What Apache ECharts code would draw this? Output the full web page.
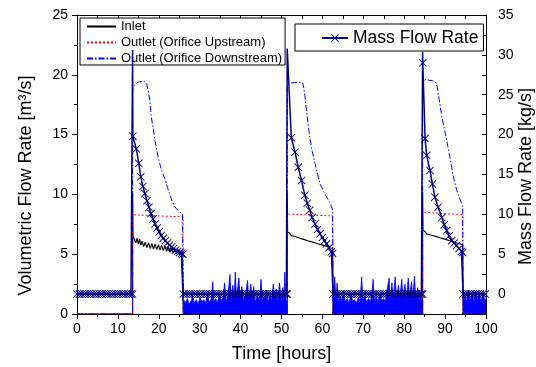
<!DOCTYPE html>
<html><head><meta charset="utf-8">
<script src="https://cdn.jsdelivr.net/npm/echarts@6/dist/echarts.min.js"></script>
<style>html,body{margin:0;padding:0;background:#fff}#c{width:536px;height:367px}</style>
</head><body><div id="c"></div><script>
// ---- axis ranges ----
const xRange = [0, 100];
const leftRange = [0, 25];
const rightRange = [-2.5, 35];

// ---- Inlet volumetric flow [m3/s] ----
const inlet = [[0,0],[13.6,0],[13.6,10.1],[13.7,6.5],[14.1,6.42],[14.4,5.95],[14.7,6.34],[15.0,5.85],[15.3,6.26],[15.6,5.76],[15.9,6.1],[16.3,5.64],[16.7,6.0],[17.1,5.55],[17.5,5.95],[17.9,5.48],[18.3,5.9],[18.7,5.42],[19.1,5.85],[19.5,5.38],[19.9,5.8],[20.3,5.34],[20.7,5.76],[21.1,5.3],[21.5,5.7],[21.9,5.24],[22.3,5.64],[22.7,5.18],[23.1,5.57],[23.5,5.1],[23.9,5.48],[24.3,5.02],[24.7,5.4],[25.1,4.95],[25.5,5.32],[25.9,5.25],[26.0,0],
 [51.4,0],[51.4,10.1],[51.5,6.85],[52.0,6.75],[52.4,6.55],[52.8,6.7],[53.2,6.5],[53.6,6.6],[54.0,6.4],[54.4,6.5],[54.8,6.3],[55.2,6.42],[55.6,6.22],[56.0,6.33],[56.4,6.13],[56.8,6.25],[57.2,6.05],[57.6,6.17],[58.0,5.97],[58.4,6.08],[58.8,5.88],[59.2,6.0],[59.6,5.8],[60.0,5.92],[60.4,5.72],[60.8,5.83],[61.2,5.63],[61.6,5.72],[62.0,5.52],[62.5,5.5],[62.6,0],
 [84.5,0],[84.5,10.2],[84.6,7.0],[85.1,6.9],[85.5,6.7],[85.9,6.82],[86.3,6.62],[86.7,6.75],[87.1,6.55],[87.5,6.67],[87.9,6.47],[88.3,6.58],[88.7,6.38],[89.1,6.5],[89.5,6.3],[89.9,6.42],[90.3,6.22],[90.7,6.33],[91.1,6.13],[91.5,6.24],[91.9,6.05],[92.3,6.16],[92.7,5.96],[93.1,6.08],[93.5,5.88],[93.9,5.98],[94.3,5.8],[94.4,0],[100,0]];

// ---- Outlet (Orifice Upstream) [m3/s] ----
const upstream = [[0,0],[13.6,0],[13.6,8.3],[14.0,8.22],[20.0,8.2],[25.9,8.13],[26.0,0],
 [51.4,0],[51.4,8.4],[52.0,8.35],[62.5,8.2],[62.6,0],
 [84.5,0],[84.5,8.55],[85.0,8.5],[94.3,8.3],[94.4,0],[100,0]];

// ---- Outlet (Orifice Downstream) [m3/s] ----
const downstream = [[0,0],[13.6,0],[13.6,18.8],[14.0,19.1],[14.5,19.3],[15.0,19.4],[16.5,19.45],[17.0,19.3],[17.4,18.7],[17.8,17.9],[18.2,16.4],[18.6,15.6],[19.0,14.6],[19.4,13.9],[19.8,13.2],[20.2,12.6],[20.8,11.9],[21.5,11.3],[22.1,10.6],[22.7,10.0],[23.3,9.4],[23.9,9.0],[24.3,8.8],[24.7,8.7],[25.2,8.5],[25.8,8.35],[26.0,0],
 [51.4,0],[51.4,19.0],[51.8,19.3],[52.0,19.4],[55.0,19.4],[55.3,19.2],[55.7,18.3],[56.1,17.1],[56.5,15.9],[56.9,14.8],[57.5,13.6],[58.2,12.6],[58.8,11.7],[59.4,10.9],[60.2,10.3],[61.0,9.8],[61.7,9.4],[62.2,9.0],[62.5,8.7],[62.6,0],
 [84.5,0],[84.5,19.2],[85.1,19.6],[87.0,19.5],[87.9,19.3],[88.3,18.5],[88.7,17.6],[89.2,16.5],[89.8,15.5],[90.4,14.5],[91.0,13.4],[91.6,12.3],[92.2,11.2],[92.8,10.4],[93.4,9.8],[94.0,9.3],[94.3,9.0],[94.4,0],[100,0]];

// downstream noise during the off periods
const dsNoiseA = [[26.0,1.0],[26.1,1.2],[26.5,0.9],[27.0,1.3],[27.4,0.8],[27.9,1.1],[28.3,1.5],[28.7,0.9],[29.2,1.2],[29.6,0.8],[30.1,1.4],[30.5,1.0],[31.0,1.2],[31.4,0.9],[31.9,1.6],[32.3,1.0],[32.8,1.2],[33.2,2.7],[33.4,1.0],[33.9,1.3],[34.3,0.9],[34.8,1.7],[35.2,1.1],[35.7,1.4],[36.1,2.6],[36.4,1.0],[36.9,1.5],[37.4,3.3],[37.7,1.2],[38.1,2.4],[38.4,1.1],[38.7,3.5],[39.0,1.3],[39.6,3.0],[39.9,1.1],[40.3,2.3],[40.7,1.2],[41.2,1.6],[41.7,2.8],[42.0,1.1],[42.5,2.5],[42.8,1.2],[43.2,2.3],[43.6,1.0],[44.1,1.5],[44.6,1.1],[45.0,2.9],[45.3,1.2],[45.8,1.4],[46.3,2.0],[46.7,1.0],[47.2,1.6],[47.6,1.1],[48.0,2.5],[48.3,1.2],[48.7,2.1],[49.1,1.0],[49.5,2.6],[49.9,1.2],[50.3,2.2],[50.6,1.1],[50.8,3.5],[51.1,1.2],[51.4,1.0]];
const dsNoiseB = [[62.6,1.1],[63.0,3.1],[63.3,1.2],[63.6,2.6],[63.9,1.0],[64.3,1.5],[64.7,1.1],[65.2,1.9],[65.6,1.0],[66.1,1.3],[66.5,0.9],[67.0,1.6],[67.4,1.1],[67.9,1.2],[68.3,0.9],[68.8,1.4],[69.2,1.0],[69.6,3.1],[69.9,1.1],[70.4,1.5],[70.8,1.0],[71.3,1.3],[71.7,1.0],[72.1,1.6],[72.4,2.9],[72.7,1.1],[73.2,1.4],[73.6,1.0],[74.1,1.7],[74.5,1.1],[75.0,1.3],[75.4,1.0],[75.9,2.2],[76.3,3.0],[76.6,1.2],[77.0,2.6],[77.3,1.1],[77.8,3.1],[78.1,1.3],[78.6,2.4],[78.9,1.1],[79.4,2.9],[79.7,1.2],[80.2,2.5],[80.5,1.0],[81.0,3.0],[81.3,1.3],[81.8,2.7],[82.1,1.1],[82.5,3.15],[82.8,1.2],[83.3,2.2],[83.7,1.1],[84.1,1.8],[84.4,1.0]];
const dsNoiseC = [[94.4,1.2],[94.8,1.8],[95.2,1.0],[95.7,2.0],[96.1,1.1],[96.6,1.7],[97.0,1.0],[97.5,1.9],[97.9,1.2],[98.4,1.6],[98.8,1.0],[99.3,1.8],[99.7,1.1],[100,1.3]];

// ---- Mass flow rate [kg/s] ----
const mass = [[0,0],[0.6,0],[1.2,0],[1.8,0],[2.4,0],[3.0,0],[3.6,0],[4.2,0],[4.8,0],[5.4,0],[6.0,0],[6.6,0],[7.2,0],[7.8,0],[8.4,0],[9.0,0],[9.6,0],[10.2,0],[10.8,0],[11.4,0],[12.0,0],[12.6,0],[13.2,0],[13.6,0],
 [13.65,19.8],[14.5,18.2],[15.1,16.4],[15.6,14.7],[16.1,13.5],[16.6,12.6],[17.1,11.7],[17.6,10.9],[18.1,10.1],[18.6,9.4],[19.1,8.8],[19.6,8.3],[20.1,7.8],[20.6,7.35],[21.1,7.0],[21.6,6.7],[22.1,6.4],[22.6,6.15],[23.1,5.9],[23.6,5.7],[24.1,5.5],[24.6,5.35],[25.1,5.2],[25.6,5.1],[25.9,5.0],
 [26.0,0],[26.6,0],[27.2,0],[27.8,0],[28.4,0],[29.0,0],[29.6,0],[30.2,0],[30.8,0],[31.4,0],[32.0,0],[32.6,0],[33.2,0],[33.8,0],[34.4,0],[35.0,0],[35.6,0],[36.2,0],[36.8,0],[37.4,0],[38.0,0],[38.6,0],[39.2,0],[39.8,0],[40.4,0],[41.0,0],[41.6,0],[42.2,0],[42.8,0],[43.4,0],[44.0,0],[44.6,0],[45.2,0],[45.8,0],[46.4,0],[47.0,0],[47.6,0],[48.2,0],[48.8,0],[49.4,0],[50.0,0],[50.6,0],[51.2,0],[51.4,0],
 [52.4,19.6],[53.3,17.8],[54.1,15.9],[54.9,14.25],[55.7,12.4],[56.3,11.4],[56.9,10.5],[57.5,9.6],[58.2,8.8],[58.8,8.1],[59.4,7.55],[60.0,7.1],[60.5,6.7],[61.0,6.3],[61.6,5.8],[62.2,5.3],[62.5,5.1],
 [62.6,0],[63.2,0],[63.8,0],[64.4,0],[65.0,0],[65.6,0],[66.2,0],[66.8,0],[67.4,0],[68.0,0],[68.6,0],[69.2,0],[69.8,0],[70.4,0],[71.0,0],[71.6,0],[72.2,0],[72.8,0],[73.4,0],[74.0,0],[74.6,0],[75.2,0],[75.8,0],[76.4,0],[77.0,0],[77.6,0],[78.2,0],[78.8,0],[79.4,0],[80.0,0],[80.6,0],[81.2,0],[81.8,0],[82.4,0],[83.0,0],[83.6,0],[84.2,0],[84.5,0],
 [84.55,29.0],[85.1,19.5],[85.5,17.4],[86.3,15.5],[86.9,13.8],[87.5,12.15],[88.3,10.9],[89.2,9.6],[89.8,8.7],[90.4,7.96],[91.0,7.3],[91.6,6.7],[92.2,6.4],[92.8,6.1],[93.4,5.7],[94.0,5.35],[94.3,5.2],
 [94.4,0],[95.0,0],[95.6,0],[96.2,0],[96.8,0],[97.4,0],[98.0,0],[98.6,0],[99.2,0],[99.8,0]];
// short spikes at the start of each run (drawn without a marker)
const massPeaks = [[13.6,30.6],[51.4,30.8],[84.5,30.4]];

// ---- build ----
const massData = mass.map(p => ({value: p, peak: false}))
  .concat(massPeaks.map(p => ({value: p, peak: true})))
  .sort((a, b) => a.value[0] - b.value[0])
  .map(d => d.peak ? {value: d.value, symbol: 'none'} : {value: d.value});

const FONT = 'Liberation Sans, Arial, sans-serif';
const XSYM = 'path://M0,0.8L0.8,0L5,4.2L9.2,0L10,0.8L5.8,5L10,9.2L9.2,10L5,5.8L0.8,10L0,9.2L4.2,5Z';

const noiseSeries = [dsNoiseA, dsNoiseB, dsNoiseC].map((d, i) => ({
  name: 'noise' + i, type: 'line', symbol: 'none', data: d, silent: true,
  lineStyle: {color: '#0000ff', width: 0.8},
  areaStyle: {color: '#0000ff', opacity: 1}, z: 3
}));

const chart = echarts.init(document.getElementById('c'), null, {renderer: 'canvas'});
chart.setOption({
  animation: false,
  backgroundColor: '#fff',
  textStyle: {fontFamily: FONT, color: '#000'},
  grid: {left: 77, right: 50, top: 15, bottom: 53, containLabel: false, outerBoundsMode: 'none'},
  legend: [
    {
      data: ['Inlet', 'Outlet (Orifice Upstream)', 'Outlet (Orifice Downstream)'],
      orient: 'vertical', left: 80, top: 18, padding: [2, 3, 0, 6],
      itemWidth: 29, itemHeight: 14, itemGap: 3,
      itemStyle: {opacity: 0},
      backgroundColor: '#fff', borderColor: '#000', borderWidth: 1, borderRadius: 0,
      textStyle: {fontSize: 13, color: '#000', fontFamily: FONT},
      selectedMode: false
    },
    {
      data: ['Mass Flow Rate'],
      orient: 'vertical', left: 295, top: 24, padding: [5, 5, 4, 26],
      itemWidth: 26, itemHeight: 10,
      backgroundColor: '#fff', borderColor: '#000', borderWidth: 1, borderRadius: 0,
      textStyle: {fontSize: 17.5, color: '#000', fontFamily: FONT},
      selectedMode: false
    }
  ],
  xAxis: [
    {
      type: 'value', min: xRange[0], max: xRange[1], interval: 10, position: 'bottom',
      name: 'Time [hours]', nameLocation: 'middle', nameGap: 31, nameMoveOverlap: false,
      nameTextStyle: {fontSize: 18, color: '#000', fontFamily: FONT},
      axisLine: {show: true, onZero: false, lineStyle: {color: '#000', width: 1}},
      axisTick: {show: true, inside: false, length: 5, lineStyle: {color: '#000'}},
      minorTick: {show: true, splitNumber: 2, length: 3, lineStyle: {color: '#000'}},
      axisLabel: {fontSize: 14, color: '#000', margin: 8, fontFamily: FONT},
      splitLine: {show: false}
    },
    {
      type: 'value', min: xRange[0], max: xRange[1], interval: 5, position: 'top',
      axisLine: {show: true, onZero: false, lineStyle: {color: '#000', width: 1}},
      axisTick: {show: true, inside: true, length: 4, lineStyle: {color: '#000'}},
      axisLabel: {show: false}, splitLine: {show: false}
    }
  ],
  yAxis: [
    {
      type: 'value', min: leftRange[0], max: leftRange[1], interval: 5, position: 'left',
      name: 'Volumetric Flow Rate [m³/s]', nameLocation: 'middle', nameGap: 42, nameRotate: 90,
      nameMoveOverlap: false,
      nameTextStyle: {fontSize: 18, color: '#000', fontFamily: FONT, padding: [0, 42, 0, 0]},
      axisLine: {show: true, onZero: false, lineStyle: {color: '#000', width: 1}},
      axisTick: {show: true, inside: false, length: 5, lineStyle: {color: '#000'}},
      minorTick: {show: true, splitNumber: 2, length: 3, lineStyle: {color: '#000'}},
      axisLabel: {fontSize: 14, color: '#000', margin: 9, fontFamily: FONT},
      splitLine: {show: false}
    },
    {
      type: 'value', min: rightRange[0], max: rightRange[1], interval: 2.5, position: 'right',
      name: 'Mass Flow Rate [kg/s]', nameLocation: 'middle', nameGap: 31, nameRotate: 90,
      nameMoveOverlap: false,
      nameTextStyle: {fontSize: 18, color: '#000', fontFamily: FONT, padding: [0, 24, 0, 0]},
      axisLine: {show: true, onZero: false, lineStyle: {color: '#000', width: 1}},
      axisTick: {show: true, inside: true, length: 4, lineStyle: {color: '#000'}},
      axisLabel: {fontSize: 14, color: '#000', margin: 12, fontFamily: FONT,
        formatter: v => (Math.abs(v % 5) < 1e-9 ? String(v) : '')},
      splitLine: {show: false}
    }
  ],
  series: [
    {name: 'Inlet', type: 'line', symbol: 'none', data: inlet, silent: true,
     lineStyle: {color: '#000', width: 1.1}, itemStyle: {color: '#000'}, z: 2},
    {name: 'Outlet (Orifice Upstream)', type: 'line', symbol: 'none', data: upstream, silent: true,
     lineStyle: {color: '#ff0000', width: 1, type: [2, 2]}, itemStyle: {color: '#ff0000'}, z: 2},
    {name: 'Outlet (Orifice Downstream)', type: 'line', symbol: 'none', data: downstream, silent: true,
     lineStyle: {color: '#0000ff', width: 1, type: [6, 2, 1.5, 2]}, itemStyle: {color: '#0000ff'}, z: 2}
  ].concat(noiseSeries).concat([
    {name: 'Mass Flow Rate', type: 'line', yAxisIndex: 1, data: massData, silent: true,
     symbol: XSYM, symbolSize: 8, showSymbol: true,
     lineStyle: {color: '#000080', width: 1.5}, itemStyle: {color: '#000080'}, z: 4}
  ])
});
</script></body></html>
